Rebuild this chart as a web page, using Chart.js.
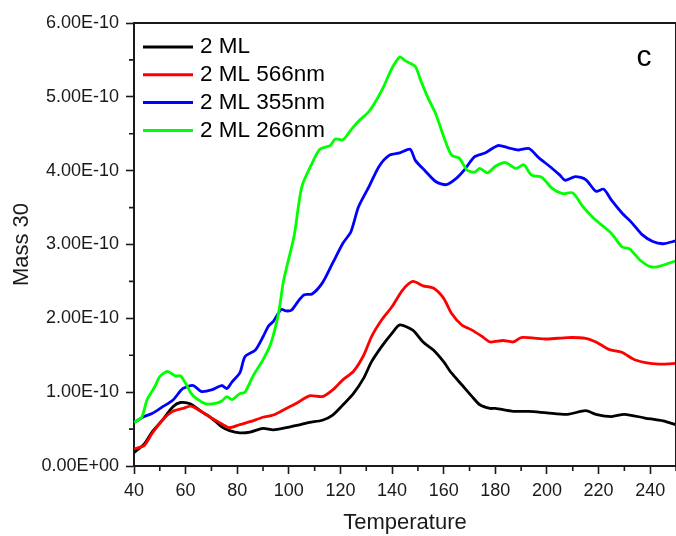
<!DOCTYPE html>
<html>
<head>
<meta charset="utf-8">
<script src="https://cdn.jsdelivr.net/npm/chart.js@4/dist/chart.umd.min.js"></script>
<style>
  html, body { margin: 0; padding: 0; background: #fff; }
  canvas { display: block; }
</style>
</head>
<body>
<canvas id="mass30" width="676" height="536"></canvas>
<script>
// Mass 30 signal vs temperature, values in units of 1E-10
var blackT = [40,44,47,51,55,58,62,66,70,74,77,81,85,90,94,99,103,108,113,117,121,125,129,132,136,140,143,148,152,156,160,163,167,171,174,178,180,187,193,200,208,215,219,225,230,238,245,250];
var blackV = [0.18,0.30,0.46,0.62,0.80,0.86,0.84,0.74,0.65,0.53,0.48,0.45,0.46,0.51,0.49,0.52,0.55,0.59,0.62,0.69,0.83,0.98,1.19,1.41,1.62,1.80,1.91,1.84,1.68,1.57,1.41,1.26,1.10,0.94,0.83,0.78,0.78,0.74,0.74,0.72,0.70,0.75,0.70,0.67,0.70,0.65,0.61,0.56];

var redT = [40,44,47,51,55,59,62,66,70,74,77,81,85,90,94,99,103,108,113,117,121,125,129,132,136,140,144,148,152,156,160,163,167,171,175,178,183,187,190,200,208,215,219,224,229,234,240,245,250];
var redV = [0.23,0.28,0.44,0.62,0.74,0.78,0.81,0.74,0.65,0.57,0.52,0.56,0.60,0.66,0.69,0.78,0.85,0.95,0.94,1.03,1.17,1.28,1.50,1.75,1.98,2.16,2.38,2.50,2.44,2.41,2.27,2.07,1.91,1.84,1.75,1.68,1.70,1.68,1.74,1.72,1.74,1.73,1.68,1.58,1.54,1.44,1.39,1.38,1.39];

var blueT = [40,44,47,51,55,59,63,66,70,74,76,78,81,83,87,90,92,94,97,99,101,104,106,109,113,117,121,124,127,131,135,139,143,147,149,153,157,161,165,168,172,176,181,185,189,193,197,201,205,207,211,215,219,222,225,229,233,237,241,245,250];
var blueV = [0.59,0.67,0.71,0.80,0.89,1.05,1.09,1.01,1.03,1.09,1.05,1.14,1.26,1.48,1.57,1.75,1.89,1.96,2.12,2.10,2.11,2.25,2.32,2.33,2.48,2.75,3.02,3.17,3.51,3.78,4.06,4.21,4.24,4.29,4.14,3.99,3.85,3.81,3.90,4.01,4.19,4.24,4.34,4.31,4.28,4.30,4.17,4.06,3.94,3.87,3.92,3.88,3.72,3.75,3.60,3.43,3.29,3.13,3.04,3.01,3.05];

var greenT = [40,43,45,48,50,53,56,58,60,62,64,68,72,74,76,78,81,83,86,90,93,96,98,102,105,109,112,116,118,121,124,127,131,134,137,140,143,145,149,151,154,157,160,163,166,169,172,174,177,180,184,188,191,194,198,202,206,210,214,218,221,225,229,232,236,240,243,250];
var greenV = [0.59,0.66,0.89,1.07,1.21,1.28,1.22,1.22,1.12,0.99,0.92,0.84,0.85,0.88,0.94,0.90,0.98,1.00,1.21,1.44,1.66,2.07,2.52,3.11,3.78,4.10,4.29,4.34,4.43,4.42,4.55,4.67,4.80,4.96,5.16,5.39,5.54,5.49,5.41,5.23,4.98,4.76,4.46,4.21,4.17,4.01,3.98,4.03,3.97,4.06,4.11,4.03,4.08,3.94,3.91,3.76,3.69,3.70,3.51,3.36,3.27,3.15,2.97,2.94,2.79,2.70,2.70,2.78];

var seriesNames = ['2 ML', '2 ML 566nm', '2 ML 355nm', '2 ML 266nm'];
var seriesColors = ['#000000', '#ff0000', '#0000ff', '#00ff00'];

var xTicks = [40,60,80,100,120,140,160,180,200,220,240];
var xMinor = [50,70,90,110,130,150,170,190,210,230,250];
var yTicks = [0,1,2,3,4,5,6];
var yMinor = [0.5,1.5,2.5,3.5,4.5,5.5];

var FONT = '"Liberation Sans", Arial, sans-serif';
var AXIS = '#1a1a1a';

function points(ts, vs) {
    return ts.map(function (t, i) { return {x: t, y: vs[i]}; });
}

function yLabel(v) {
    if (v === 0) return '0.00E+00';
    return v.toFixed(2) + 'E-10';
}

var allT = [blackT, redT, blueT, greenT];
var allV = [blackV, redV, blueV, greenV];
var datasets = seriesNames.map(function (name, i) {
    return {
        label: name,
        data: points(allT[i], allV[i]),
        borderColor: seriesColors[i],
        borderWidth: 2.8,
        pointRadius: 0,
        tension: 0.25,
        order: 4 - i
    };
});

// box frame, minor ticks, legend and panel letter
var extras = {
    id: 'extras',
    afterDraw: function (chart) {
        var ctx = chart.ctx;
        var a = chart.chartArea;
        var xs = chart.scales.x, ys = chart.scales.y;
        ctx.save();
        ctx.strokeStyle = AXIS;
        ctx.lineWidth = 2;
        ctx.beginPath();
        ctx.moveTo(a.left, a.top);
        ctx.lineTo(a.right, a.top);
        ctx.lineTo(a.right, a.bottom);
        ctx.stroke();

        ctx.lineWidth = 1.6;
        ctx.beginPath();
        yMinor.forEach(function (v) {
            var py = ys.getPixelForValue(v);
            ctx.moveTo(a.left - 5, py);
            ctx.lineTo(a.left, py);
        });
        xMinor.forEach(function (v) {
            var px = xs.getPixelForValue(v);
            ctx.moveTo(px, a.bottom);
            ctx.lineTo(px, a.bottom + 5);
        });
        ctx.stroke();

        ctx.font = '22.5px ' + FONT;
        ctx.textBaseline = 'middle';
        ctx.textAlign = 'left';
        seriesNames.forEach(function (name, i) {
            var ry = a.top + 24 + i * 27.8;
            ctx.strokeStyle = seriesColors[i];
            ctx.lineWidth = 3;
            ctx.beginPath();
            ctx.moveTo(a.left + 9, ry);
            ctx.lineTo(a.left + 59, ry);
            ctx.stroke();
            ctx.fillStyle = '#000';
            ctx.fillText(name, a.left + 66, ry);
        });

        ctx.font = '30px ' + FONT;
        ctx.textAlign = 'center';
        ctx.textBaseline = 'alphabetic';
        ctx.fillText('c', 644, 66);
        ctx.restore();
    }
};

new Chart(document.getElementById('mass30'), {
    type: 'line',
    data: { datasets: datasets },
    options: {
        responsive: false,
        animation: false,
        devicePixelRatio: 1,
        layout: { padding: { top: 23, right: 0, bottom: 0, left: 0 } },
        plugins: {
            legend: { display: false },
            tooltip: { enabled: false }
        },
        scales: {
            x: {
                type: 'linear',
                min: 40,
                max: 250,
                afterBuildTicks: function (scale) {
                    scale.ticks = xTicks.map(function (v) { return {value: v}; });
                },
                afterFit: function (scale) { scale.height = 70; },
                border: { color: AXIS, width: 2 },
                grid: { drawOnChartArea: false, tickLength: 8, tickWidth: 1.6, tickColor: AXIS },
                ticks: {
                    color: '#1a1a1a',
                    padding: 6,
                    maxRotation: 0,
                    font: { family: FONT, size: 18 }
                },
                title: {
                    display: true,
                    text: 'Temperature',
                    color: '#1a1a1a',
                    font: { family: FONT, size: 22 },
                    padding: { top: 0, bottom: 0 }
                }
            },
            y: {
                min: 0,
                max: 6,
                afterBuildTicks: function (scale) {
                    scale.ticks = yTicks.map(function (v) { return {value: v}; });
                },
                afterFit: function (scale) { scale.width = 134; },
                border: { color: AXIS, width: 2 },
                grid: { drawOnChartArea: false, tickLength: 8, tickWidth: 1.6, tickColor: AXIS },
                ticks: {
                    color: '#1a1a1a',
                    padding: 7,
                    font: { family: FONT, size: 18 },
                    callback: function (v) { return yLabel(v); }
                },
                title: {
                    display: true,
                    text: 'Mass 30',
                    color: '#1a1a1a',
                    font: { family: FONT, size: 22 },
                    padding: { top: 9, bottom: 0 }
                }
            }
        }
    },
    plugins: [extras]
});
</script>
</body>
</html>
